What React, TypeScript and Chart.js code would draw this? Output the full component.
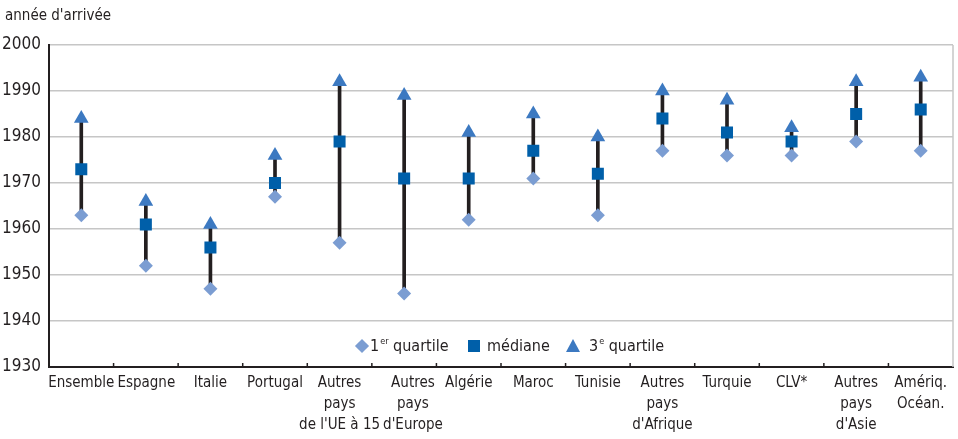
import React, { useEffect, useRef } from "react";
import { Chart, registerables } from "chart.js";

Chart.register(...registerables);

const categories: (string | string[])[] = [
  "Ensemble",
  "Espagne",
  "Italie",
  "Portugal",
  ["Autres", "pays", "de l'UE à 15"],
  ["Autres", "pays", "d'Europe"],
  "Algérie",
  "Maroc",
  "Tunisie",
  ["Autres", "pays", "d'Afrique"],
  "Turquie",
  "CLV*",
  ["Autres", "pays", "d'Asie"],
  ["Amériq.", "Océan."],
];

const q1 = [1963, 1952, 1947, 1967, 1957, 1946, 1962, 1971, 1963, 1977, 1976, 1976, 1979, 1977];
const median = [1973, 1961, 1956, 1970, 1979, 1971, 1971, 1977, 1972, 1984, 1981, 1979, 1985, 1986];
const q3 = [1984, 1966, 1961, 1976, 1992, 1989, 1981, 1985, 1980, 1990, 1988, 1982, 1992, 1993];

const yMin = 1930;
const yMax = 2000;
const yStep = 10;

const FONT = "'DejaVu Sans Condensed', 'Liberation Sans Narrow', sans-serif";
const C_Q1 = "#7b9dd2";
const C_MED = "#005fa9";
const C_Q3 = "#3c79c1";
const C_TEXT = "#231f20";

const framePlugin = {
  id: "frame",
  afterDraw(chart: any) {
    const { ctx, chartArea } = chart;
    const x = chart.scales.x;
    ctx.save();
    // right border
    ctx.strokeStyle = "#c6c6c6";
    ctx.lineWidth = 1.5;
    ctx.beginPath();
    ctx.moveTo(chartArea.right, chartArea.top);
    ctx.lineTo(chartArea.right, chartArea.bottom);
    ctx.stroke();
    // inner tick marks at category boundaries
    ctx.strokeStyle = C_TEXT;
    ctx.lineWidth = 1.5;
    const n = categories.length;
    for (let i = 1; i < n; i++) {
      const px = (x.getPixelForValue(i - 1) + x.getPixelForValue(i)) / 2;
      ctx.beginPath();
      ctx.moveTo(px, chartArea.bottom);
      ctx.lineTo(px, chartArea.bottom - 4);
      ctx.stroke();
    }
    // category labels, shifted right when they would collide (like the original)
    ctx.font = `15px ${FONT}`;
    ctx.fillStyle = C_TEXT;
    ctx.textAlign = "center";
    ctx.textBaseline = "middle";
    const prevRight: number[] = [-Infinity, -Infinity, -Infinity];
    const gap = 3;
    for (let i = 0; i < n; i++) {
      const lab = categories[i];
      const lines = Array.isArray(lab) ? lab : [lab];
      const cx = x.getPixelForValue(i);
      let shift = 0;
      lines.forEach((l, r) => {
        const w = ctx.measureText(l).width;
        const need = prevRight[r] + gap - (cx - w / 2);
        if (need > shift) shift = need;
      });
      lines.forEach((l, r) => {
        const w = ctx.measureText(l).width;
        const px = cx + shift;
        ctx.fillText(l, px, chartArea.bottom + 16 + r * 21);
        prevRight[r] = px + w / 2;
      });
    }
    ctx.restore();
  },
};

export default function App() {
  const ref = useRef<HTMLCanvasElement | null>(null);

  useEffect(() => {
    if (!ref.current) return;
    const chart = new Chart(ref.current, {
      type: "bar",
      data: {
        labels: categories as any,
        datasets: [
          {
            type: "line",
            label: "3e quartile",
            data: q3,
            showLine: false,
            pointStyle: "triangle",
            pointRadius: 8.5,
            pointHoverRadius: 8.5,
            pointBackgroundColor: C_Q3,
            pointBorderColor: C_Q3,
            pointBorderWidth: 0,
            order: 1,
          } as any,
          {
            type: "line",
            label: "médiane",
            data: median,
            showLine: false,
            pointStyle: "rect",
            pointRadius: 8.5,
            pointHoverRadius: 8.5,
            pointBackgroundColor: C_MED,
            pointBorderColor: C_MED,
            pointBorderWidth: 0,
            order: 0,
          } as any,
          {
            type: "line",
            label: "1er quartile",
            data: q1,
            showLine: false,
            pointStyle: "rectRot",
            pointRadius: 7,
            pointHoverRadius: 7,
            pointBackgroundColor: C_Q1,
            pointBorderColor: C_Q1,
            pointBorderWidth: 0,
            order: 2,
          } as any,
          {
            type: "bar",
            label: "range",
            data: q1.map((v, i) => [v, q3[i]]) as any,
            backgroundColor: C_TEXT,
            barThickness: 3,
            order: 10,
          } as any,
        ],
      },
      options: {
        animation: false,
        responsive: false,
        devicePixelRatio: 1,
        events: [],
        layout: { autoPadding: false, padding: { top: 45, right: 5, left: 0, bottom: 0 } },
        plugins: {
          legend: { display: false },
          tooltip: { enabled: false },
          title: { display: false },
        },
        scales: {
          x: {
            offset: true,
            grid: { display: false, drawTicks: false },
            border: { display: true, color: C_TEXT, width: 2 },
            ticks: { display: false },
            afterFit: (s: any) => {
              s.height = 72;
              s.paddingLeft = 0;
              s.paddingRight = 0;
            },
          },
          y: {
            min: yMin,
            max: yMax,
            grid: { color: "#c6c6c6", lineWidth: 1.5, drawTicks: false },
            border: { display: true, color: C_TEXT, width: 2 },
            ticks: {
              stepSize: yStep,
              padding: 8,
              color: C_TEXT,
              font: { family: FONT, size: 17 },
              callback: (v: any) => String(v),
            },
            afterFit: (s: any) => {
              s.width = 49;
            },
          },
        },
      },
      plugins: [framePlugin],
    });
    return () => chart.destroy();
  }, []);

  const textStyle: React.CSSProperties = {
    fontFamily: FONT,
    fontSize: 16,
    color: C_TEXT,
    whiteSpace: "nowrap",
    position: "absolute",
    lineHeight: "20px",
  };
  const supStyle: React.CSSProperties = {
    fontSize: 9,
    position: "relative",
    top: -7,
    marginLeft: 1,
  };

  return (
    <div style={{ position: "absolute", left: 0, top: 0, width: 958, height: 439, background: "#fff" }}>
      <canvas ref={ref} width={958} height={439} style={{ display: "block" }} />
      <div style={{ ...textStyle, left: 5, top: 5, fontSize: 15 }}>année d'arrivée</div>
      <span
        style={{
          position: "absolute",
          left: 357,
          top: 341,
          width: 10,
          height: 10,
          background: C_Q1,
          transform: "rotate(45deg)",
        }}
      />
      <div style={{ ...textStyle, left: 370, top: 336 }}>
        1<span style={supStyle}>er</span> quartile
      </div>
      <span
        style={{
          position: "absolute",
          left: 468,
          top: 340,
          width: 12,
          height: 12,
          background: C_MED,
        }}
      />
      <div style={{ ...textStyle, left: 487, top: 336 }}>médiane</div>
      <span
        style={{
          position: "absolute",
          left: 566,
          top: 339,
          width: 0,
          height: 0,
          borderLeft: "7.5px solid transparent",
          borderRight: "7.5px solid transparent",
          borderBottom: `13px solid ${C_Q3}`,
        }}
      />
      <div style={{ ...textStyle, left: 589, top: 336 }}>
        3<span style={supStyle}>e</span> quartile
      </div>
    </div>
  );
}
